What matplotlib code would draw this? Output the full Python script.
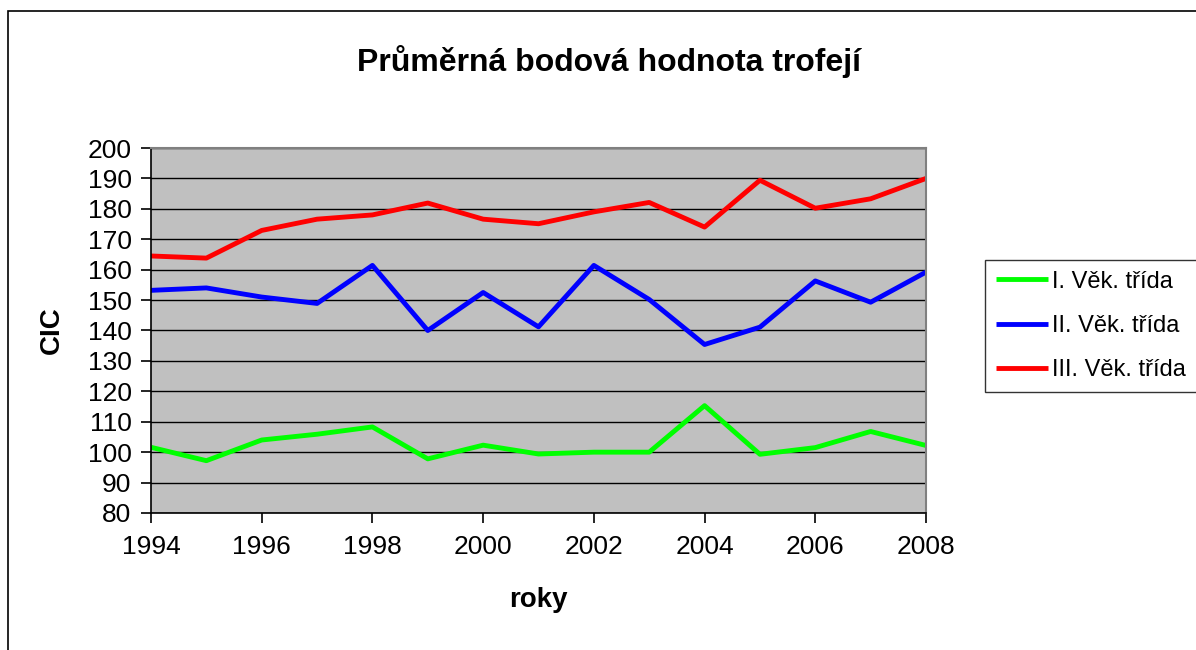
import numpy as np
import matplotlib.pyplot as plt
from matplotlib.patches import Rectangle

plt.rcParams['font.family'] = ['Liberation Sans', 'DejaVu Sans']

years = np.arange(1994, 2009)
trida_1 = [101.6, 97.2, 104.0, 105.9, 108.3, 97.8, 102.3, 99.4, 100.0, 100.0, 115.3, 99.3, 101.5, 106.8, 102.2]
trida_2 = [153.2, 154.0, 151.0, 148.9, 161.4, 140.0, 152.5, 141.2, 161.4, 150.2, 135.4, 141.1, 156.3, 149.3, 159.2]
trida_3 = [164.5, 163.8, 172.9, 176.6, 178.0, 181.9, 176.6, 175.1, 179.0, 182.1, 174.0, 189.4, 180.2, 183.3, 190.0]
labels = ['I. Věk. třída', 'II. Věk. třída', 'III. Věk. třída']
colors = ['#00FF00', '#0000FF', '#FF0000']

W, H = 1196, 650
fig = plt.figure(figsize=(W / 100, H / 100), dpi=100)

# outer chart frame (runs off the right and bottom edge)
fig.patches.append(Rectangle((8 / W, -0.05), 1.2, 1 - 11 / H + 0.05,
                             transform=fig.transFigure, fill=False,
                             edgecolor='black', linewidth=1.2))

ax = fig.add_axes([151 / W, 1 - 513 / H, 775 / W, 365 / H])
ax.set_facecolor('#C0C0C0')

for vals, lab, c in zip([trida_1, trida_2, trida_3], labels, colors):
    ax.plot(years, vals, color=c, linewidth=3.5, label=lab, solid_capstyle='butt')

ax.set_xlim(1994, 2008)
ax.set_ylim(80, 200)
ax.set_xticks(np.arange(1994, 2009, 2))
ax.set_yticks(np.arange(80, 201, 10))
ax.yaxis.grid(True, color='black', linewidth=1)
ax.set_axisbelow(True)

for s in ['top', 'right']:
    ax.spines[s].set_color('#808080')
    ax.spines[s].set_linewidth(1.5)
for s in ['left', 'bottom']:
    ax.spines[s].set_color('black')
    ax.spines[s].set_linewidth(1.2)

ax.tick_params(axis='both', labelsize=19, direction='out', length=7, width=1.2)
ax.tick_params(axis='y', pad=7)
ax.tick_params(axis='x', pad=9)

ax.set_ylabel('CIC', fontsize=20, fontweight='bold', labelpad=16)
ax.set_xlabel('roky', fontsize=20, fontweight='bold', labelpad=20)
fig.text(609 / W, 1 - 62 / H, 'Průměrná bodová hodnota trofejí',
         ha='center', va='center', fontsize=23, fontweight='bold')

leg = fig.legend(loc='upper left', bbox_to_anchor=(985 / W, 1 - 260 / H),
                 fontsize=17, frameon=True, fancybox=False, handlelength=2.2,
                 handletextpad=0.2, borderpad=0.45, borderaxespad=0,
                 labelspacing=0.95)
leg.get_frame().set_edgecolor('black')
leg.get_frame().set_linewidth(1)

fig.savefig('out.png', dpi=100)
